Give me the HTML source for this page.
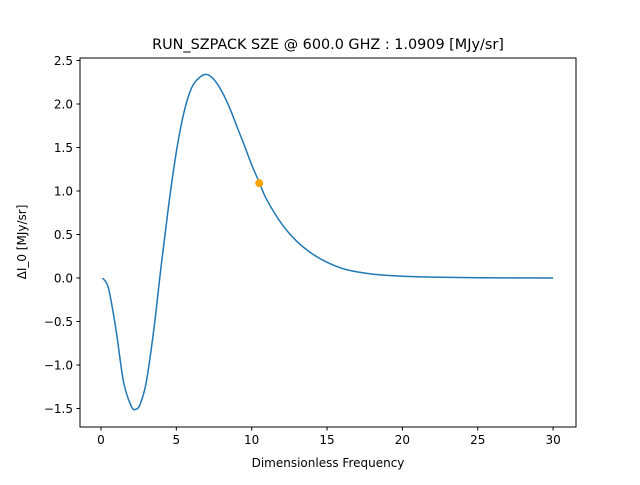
<!DOCTYPE html>
<html><head><meta charset="utf-8"><style>
body{margin:0;background:#fff}
svg{font-family:"DejaVu Sans","Liberation Sans",sans-serif}
</style></head><body>
<svg width="640" height="480">
<rect x="0" y="0" width="640" height="480" fill="#fff"/>
<g id="plot"></g>
<text x="328" y="49" text-anchor="middle" font-size="14.4">RUN_SZPACK SZE @ 600.0 GHZ : 1.0909 [MJy/sr]</text>
<text x="328" y="467" text-anchor="middle" font-size="12">Dimensionless Frequency</text>
<text transform="translate(26,242) rotate(-90)" text-anchor="middle" font-size="12">ΔI_0 [MJy/sr]</text>
</svg>
<script>
const xs=[0.1,0.5,1,1.5,2,2.3,2.6,3,3.5,4,4.5,5,5.5,6,6.5,7,7.5,8,8.5,9,9.5,10,10.5,11,12,13,14,15,16,17,18,19,20,22,25,30];
const ys=[0,-0.12,-0.6,-1.2,-1.47,-1.51,-1.45,-1.2,-0.6,0.15,0.85,1.45,1.9,2.18,2.3,2.34,2.28,2.15,1.97,1.75,1.53,1.3,1.1,0.9,0.62,0.42,0.28,0.18,0.11,0.07,0.045,0.03,0.02,0.01,0.003,0];
const marker=[10.5,1.09];
const xTicks=[0,5,10,15,20,25,30];
const yTicks=[-1.5,-1.0,-0.5,0.0,0.5,1.0,1.5,2.0,2.5];
const X=v=>101+v*15.07, Y=v=>278-v*87;
const NS="http://www.w3.org/2000/svg", g=document.getElementById('plot');
function mk(t,a){const e=document.createElementNS(NS,t);for(const k in a)e.setAttribute(k,a[k]);g.appendChild(e);return e;}
const ax=mk('rect',{x:80,y:58,width:496,height:369,fill:'none',stroke:'#000','stroke-width':1});


xTicks.forEach(t=>{const x=X(t);
const l=mk('line',{x1:x,x2:x,y1:427,y2:430.5,stroke:'#000'});


const tx=mk('text',{x:x,y:444,'text-anchor':'middle','font-size':12});tx.textContent=t;

});
yTicks.forEach(t=>{const y=Y(t);
const l=mk('line',{x1:76.5,x2:80,y1:y,y2:y,stroke:'#000'});


const tx=mk('text',{x:73,y:y+4.5,'text-anchor':'end','font-size':12});tx.textContent=t.toFixed(1).replace('-','−');

});
const P=xs.map((x,i)=>[X(x),Y(ys[i])]);
let d='M'+P[0][0]+','+P[0][1];
for(let i=0;i<P.length-1;i++){
const p0=P[Math.max(0,i-1)],p1=P[i],p2=P[i+1],p3=P[Math.min(P.length-1,i+2)];
const c1=[p1[0]+(p2[0]-p0[0])/6,p1[1]+(p2[1]-p0[1])/6];
const c2=[p2[0]-(p3[0]-p1[0])/6,p2[1]-(p3[1]-p1[1])/6];
d+='C'+c1[0]+','+c1[1]+' '+c2[0]+','+c2[1]+' '+p2[0]+','+p2[1];}
const p=mk('path',{d:d,fill:'none',stroke:'#1f77b4','stroke-width':1.5,'stroke-linejoin':'round'});


const c=mk('circle',{cx:X(marker[0]),cy:Y(marker[1]),r:4,fill:'orange'});


</script>
</body></html>
